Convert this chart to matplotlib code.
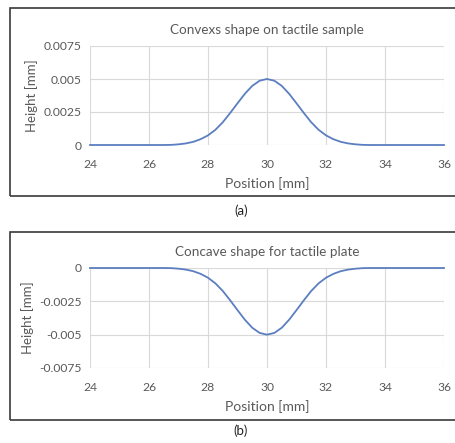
import matplotlib
matplotlib.use("Agg")
import matplotlib.pyplot as plt
from matplotlib.patches import Rectangle

plt.rcParams['font.family'] = ['Lato', 'DejaVu Sans']

# Data
position_mm = [24.0, 24.5, 25.0, 25.5, 26.0, 26.5, 26.75, 27.0, 27.25, 27.5, 27.75,
               28.0, 28.25, 28.5, 28.75, 29.0, 29.25, 29.5, 29.75, 30.0,
               30.25, 30.5, 30.75, 31.0, 31.25, 31.5, 31.75, 32.0, 32.25,
               32.5, 32.75, 33.0, 33.25, 33.5, 34.0, 34.5, 35.0, 35.5, 36.0]
convex_height_mm = [0.0, 0.0, 0.0, 0.0, 0.0, 0.0, 0.00001, 0.00005, 0.00012, 0.00024, 0.00044,
                    0.00073, 0.00115, 0.00172, 0.00242, 0.00316, 0.00388, 0.00448, 0.00487, 0.00500,
                    0.00487, 0.00448, 0.00388, 0.00316, 0.00242, 0.00172, 0.00115, 0.00073, 0.00044,
                    0.00024, 0.00012, 0.00005, 0.00001, 0.0, 0.0, 0.0, 0.0, 0.0, 0.0]
concave_height_mm = [-v for v in convex_height_mm]

x_ticks = [24, 26, 28, 30, 32, 34, 36]
convex_y_ticks = [0, 0.0025, 0.005, 0.0075]
convex_y_labels = ["0", "0.0025", "0.005", "0.0075"]
concave_y_ticks = [-0.0075, -0.005, -0.0025, 0]
concave_y_labels = ["-0.0075", "-0.005", "-0.0025", "0"]

titles = ["Convexs shape on tactile sample", "Concave shape for tactile plate"]
captions = ["(a)", "(b)"]

W, H = 456, 443
fig = plt.figure(figsize=(W / 100, H / 100), dpi=100)

text_col = "#595959"
line_col = "#5B7EC0"
grid_col = "#D9D9D9"

def fx(px):
    return px / W

def fy(py):
    return 1 - py / H

def make_panel(box_top, box_bot, ax_top, ax_bot, y, yticks, ylabels, ylim, title, caption, cap_y):
    # chart border
    fig.patches.append(Rectangle((fx(10), fy(box_bot)), fx(470) - fx(10), fy(box_top) - fy(box_bot),
                                 transform=fig.transFigure, fill=False, edgecolor="#3a3a3a",
                                 linewidth=1.2))
    ax = fig.add_axes([fx(90), fy(ax_bot), fx(444) - fx(90), fy(ax_top) - fy(ax_bot)])
    ax.plot(position_mm, y, color=line_col, linewidth=1.3, zorder=3, clip_on=False)
    ax.set_xlim(24, 36)
    ax.set_ylim(*ylim)
    ax.set_xticks(x_ticks)
    ax.set_xticklabels([str(t) for t in x_ticks])
    ax.set_yticks(yticks)
    ax.set_yticklabels(ylabels)
    ax.grid(True, color=grid_col, linewidth=0.8)
    for s in ax.spines.values():
        s.set_visible(False)
    ax.tick_params(length=0, colors=text_col, labelsize=8.7, pad=6)
    ax.tick_params(axis='x', pad=10)
    ax.set_xlabel("Position [mm]", color=text_col, fontsize=10, labelpad=5)
    ax.set_ylabel("Height [mm]", color=text_col, fontsize=9.5, labelpad=4)
    ax.set_title(title, color=text_col, fontsize=9.7, pad=9)
    fig.text(fx(241), fy(cap_y), caption, ha="center", va="center", fontsize=9.5, color="#222222")
    return ax

ax1 = make_panel(8, 196, 46, 145, convex_height_mm, convex_y_ticks, convex_y_labels,
                 (0, 0.0075), titles[0], captions[0], 211)
ax2 = make_panel(232, 420, 268, 368, concave_height_mm, concave_y_ticks, concave_y_labels,
                 (-0.0075, 0), titles[1], captions[1], 431)

fig.savefig("out.png", dpi=100, facecolor="white")
